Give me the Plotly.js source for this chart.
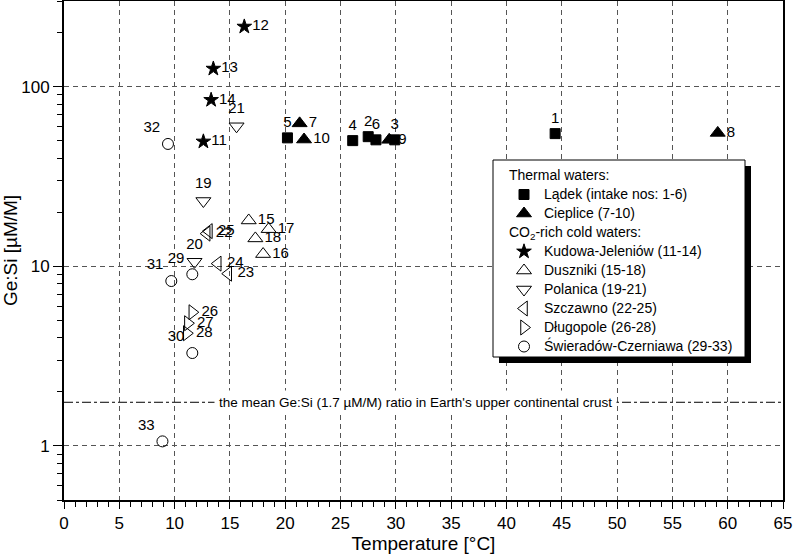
<!DOCTYPE html>
<html>
<head>
<meta charset="utf-8">
<script src="https://cdn.plot.ly/plotly-3.0.1.min.js"></script>
<style>
  html, body { margin: 0; padding: 0; background: #fff; }
  #graph { width: 796px; height: 558px; }
</style>
</head>
<body>
<div id="graph"></div>
<script>
// intake numbers, water temperature (°C) and Ge:Si (µM/M)
var ladekNo = ['1', '2', '3', '4', '5', '6'];
var ladekT = [44.4, 27.5, 29.9, 26.1, 20.2, 28.2];
var ladekGeSi = [54.8, 52.7, 50.6, 50.1, 51.9, 50.6];

var cieplNo = ['7', '8', '9', '10'];
var cieplT = [21.3, 59.1, 29.4, 21.7];
var cieplGeSi = [62.5, 55.3, 50.6, 50.8];

var kudowaNo = ['11', '12', '13', '14'];
var kudowaT = [12.6, 16.3, 13.5, 13.3];
var kudowaGeSi = [49.5, 216, 126, 84.4];

var dusznNo = ['15', '16', '17', '18'];
var dusznT = [16.7, 18.0, 18.5, 17.3];
var dusznGeSi = [18.0, 11.7, 16.1, 14.3];

var polanNo = ['19', '20', '21'];
var polanT = [12.6, 11.8, 15.6];
var polanGeSi = [23.1, 10.6, 60.2];

var szczNo = ['22', '23', '24', '25'];
var szczT = [12.9, 14.85, 13.9, 13.1];
var szczGeSi = [15.2, 9.1, 10.35, 15.7];

var dlugNo = ['26', '27', '28'];
var dlugT = [11.6, 11.2, 11.1];
var dlugGeSi = [5.55, 4.82, 4.24];

var swierNo = ['29', '30', '31', '32', '33'];
var swierT = [11.6, 11.6, 9.7, 9.4, 8.9];
var swierGeSi = [9.03, 3.29, 8.28, 48.0, 1.06];

// mean Ge:Si of the upper continental crust (horizontal reference line)
var crustMean = 1.75;
var crustLabel = 'the mean Ge:Si (1.7 \u00b5M/M) ratio in Earth\'s upper continental crust';

var yTicks = [1, 10, 100];
var yMinorTicks = [0.5, 0.6, 0.7, 0.8, 0.9, 2, 3, 4, 5, 6, 7, 8, 9,
                   20, 30, 40, 50, 60, 70, 80, 90, 200, 300];

// legend rows are spaced by the small base font, text drawn bigger like the original
function big(s) { return '<span style="font-size:14px">' + s + '</span>'; }

function series(name, group, T, G, no, symbol, size, textpos) {
  return {
    x: T,
    y: G,
    text: no,
    name: big(name),
    legendgroup: group,
    mode: 'markers+text',
    type: 'scatter',
    textposition: textpos,
    textfont: {size: 15, color: '#000'},
    marker: {symbol: symbol, size: size, color: '#000', line: {color: '#000', width: 1}},
    cliponaxis: false,
    hoverinfo: 'none'
  };
}

var traces = [
  series('L\u0105dek (intake nos: 1-6)', 'thermal', ladekT, ladekGeSi, ladekNo, 'square', 10, 'top center'),
  series('Cieplice (7-10)', 'thermal', cieplT, cieplGeSi, cieplNo, 'triangle-up', 13, 'middle right'),
  series('Kudowa-Jeleni\u00f3w (11-14)', 'cold', kudowaT, kudowaGeSi, kudowaNo, 'star', 11, 'middle right'),
  series('Duszniki (15-18)', 'cold', dusznT, dusznGeSi, dusznNo, 'triangle-up-open', 13, 'middle right'),
  series('Polanica (19-21)', 'cold', polanT, polanGeSi, polanNo, 'triangle-down-open', 13, 'top center'),
  series('Szczawno (22-25)', 'cold', szczT, szczGeSi, szczNo, 'triangle-left-open', 13, 'middle right'),
  series('D\u0142ugopole (26-28)', 'cold', dlugT, dlugGeSi, dlugNo, 'triangle-right-open', 13, 'middle right'),
  series('\u015awierad\u00f3w-Czerniawa (29-33)', 'cold', swierT, swierGeSi, swierNo, 'circle-open', 11, 'top left')
];
traces[0].legendgrouptitle = {text: big('Thermal waters:'), font: {size: 11}};
traces[2].legendgrouptitle = {text: big('CO<sub>2</sub>-rich cold waters:'), font: {size: 11}};

traces.push({
  x: [0, 65],
  y: [crustMean, crustMean],
  mode: 'lines',
  type: 'scatter',
  line: {color: '#000', width: 1, dash: 'dashdot'},
  showlegend: false,
  hoverinfo: 'none'
});

// legend frame with drop shadow, in pixels of the plot area
var plotW = 719, plotH = 499;
var boxL = 493 - 64, boxR = 745 - 64, boxT = 160 - 1, boxB = 357 - 1, sh = 6;
function px(v) { return v / plotW; }
function py(v) { return 1 - v / plotH; }

var layout = {
  width: 796,
  height: 558,
  margin: {l: 64, r: 13, t: 1, b: 58},
  paper_bgcolor: '#fff',
  plot_bgcolor: '#fff',
  font: {family: 'Liberation Sans, Arial, sans-serif', color: '#000', size: 16},
  showlegend: true,
  legend: {
    x: px(boxL + 11), y: py(boxT + 1), xanchor: 'left', yanchor: 'top',
    bgcolor: 'rgba(0,0,0,0)', borderwidth: 0,
    font: {size: 11},
    traceorder: 'grouped', tracegroupgap: 0,
    itemclick: false, itemdoubleclick: false
  },
  xaxis: {
    range: [0, 65], tick0: 0, dtick: 5,
    ticks: 'outside', ticklen: 7, tickwidth: 1, tickcolor: '#000',
    minor: {dtick: 1, ticks: 'outside', ticklen: 5, tickwidth: 1, tickcolor: '#000', showgrid: false},
    showline: true, linecolor: '#000', linewidth: 2, mirror: true,
    showgrid: true, gridcolor: '#555', gridwidth: 1, griddash: '5px,4px',
    zeroline: false,
    tickfont: {size: 17},
    title: {text: 'Temperature [\u00b0C]', font: {size: 19}, standoff: 4}
  },
  yaxis: {
    type: 'log', range: [Math.log10(0.5), Math.log10(300)],
    tickmode: 'array', tickvals: yTicks, ticktext: yTicks.map(String),
    ticks: 'outside', ticklen: 9, tickwidth: 1, tickcolor: '#000',
    minor: {tickmode: 'array', tickvals: yMinorTicks, ticks: 'outside', ticklen: 5, tickwidth: 1, tickcolor: '#000', showgrid: false},
    showline: true, linecolor: '#000', linewidth: 2, mirror: true,
    showgrid: true, gridcolor: '#555', gridwidth: 1, griddash: '5px,4px',
    zeroline: false,
    tickfont: {size: 17},
    title: {text: 'Ge:Si [\u00b5M/M]', font: {size: 19}, standoff: 10}
  },
  shapes: [
    {type: 'rect', xref: 'paper', yref: 'paper', layer: 'above',
     x0: px(boxL + sh), x1: px(boxR + sh), y0: py(boxB + sh), y1: py(boxT + sh),
     fillcolor: '#000', line: {width: 0}},
    {type: 'rect', xref: 'paper', yref: 'paper', layer: 'above',
     x0: px(boxL), x1: px(boxR), y0: py(boxB), y1: py(boxT),
     fillcolor: '#fff', line: {color: '#000', width: 1}}
  ],
  annotations: [
    {x: 31.8, y: Math.log10(crustMean), xref: 'x', yref: 'y',
     text: crustLabel, showarrow: false, bgcolor: '#fff', borderpad: 4,
     font: {size: 13.5, color: '#000'}}
  ]
};

Plotly.newPlot('graph', traces, layout, {staticPlot: true});
</script>
</body>
</html>
